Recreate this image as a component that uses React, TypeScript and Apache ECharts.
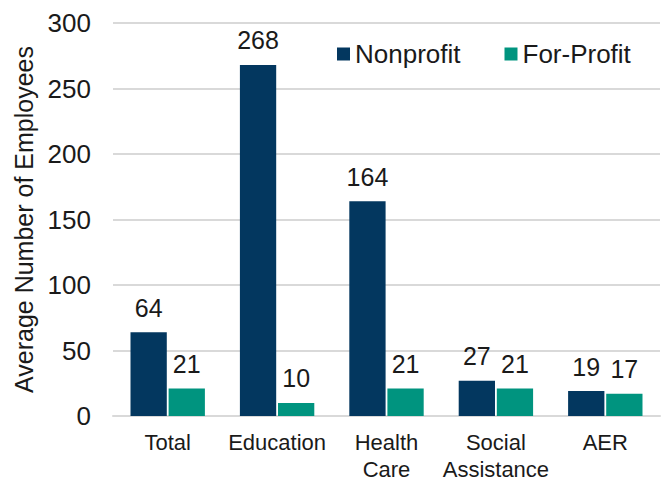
import React, { useEffect, useRef } from "react";
import * as echarts from "echarts";

const categories = ["Total", "Education", "Health\nCare", "Social\nAssistance", "AER"];
const nonprofit = [64, 268, 164, 27, 19];
const forProfit = [21, 10, 21, 21, 17];
const yTicks = { min: 0, max: 300, interval: 50 };

const FONT = "'Liberation Sans', Arial, sans-serif";
const TEXT = "#1a1a1a";
const NAVY = "#03375f";
const TEAL = "#00947f";
const GRID = "#d9d9d9";

export default function App() {
  const ref = useRef<HTMLDivElement>(null);
  useEffect(() => {
    if (!ref.current) return;
    const chart = echarts.init(ref.current, undefined, { renderer: "svg" });
    const labelCfg = {
      show: true,
      position: "top",
      distance: 12,
      fontSize: 25,
      fontFamily: FONT,
      color: TEXT,
    };
    chart.setOption({
      animation: false,
      backgroundColor: "#ffffff",
      textStyle: { fontFamily: FONT },
      grid: { left: 113, right: 2, top: 23, bottom: 62, containLabel: false },
      legend: {
        left: 337,
        top: 41,
        padding: 0,
        itemWidth: 13,
        itemHeight: 13,
        itemGap: 44,
        icon: "rect",
        textStyle: { fontSize: 26, fontFamily: FONT, color: TEXT },
        data: ["Nonprofit", "For-Profit"],
      },
      xAxis: {
        type: "category",
        data: categories,
        axisTick: { show: false },
        axisLine: { show: true, lineStyle: { color: GRID, width: 2 } },
        axisLabel: {
          fontSize: 22,
          fontFamily: FONT,
          color: TEXT,
          margin: 13,
          lineHeight: 27,
          interval: 0,
        },
      },
      yAxis: {
        type: "value",
        min: yTicks.min,
        max: yTicks.max,
        interval: yTicks.interval,
        name: "Average Number of Employees",
        nameLocation: "middle",
        nameRotate: 90,
        nameGap: 74,
        nameTextStyle: { fontSize: 25, fontFamily: FONT, color: TEXT },
        axisLine: { show: false },
        axisTick: { show: false },
        axisLabel: { fontSize: 26, fontFamily: FONT, color: TEXT, margin: 22 },
        splitLine: { show: true, lineStyle: { color: GRID, width: 2 } },
      },
      series: [
        {
          name: "Nonprofit",
          type: "bar",
          data: nonprofit,
          itemStyle: { color: NAVY },
          barGap: "5%",
          barCategoryGap: "32%",
          label: labelCfg,
        },
        {
          name: "For-Profit",
          type: "bar",
          data: forProfit,
          itemStyle: { color: TEAL },
          barGap: "5%",
          barCategoryGap: "32%",
          label: labelCfg,
        },
      ],
    });
    return () => chart.dispose();
  }, []);
  return (
    <div
      ref={ref}
      style={{ position: "absolute", left: 0, top: 0, width: 662, height: 483 }}
    />
  );
}
